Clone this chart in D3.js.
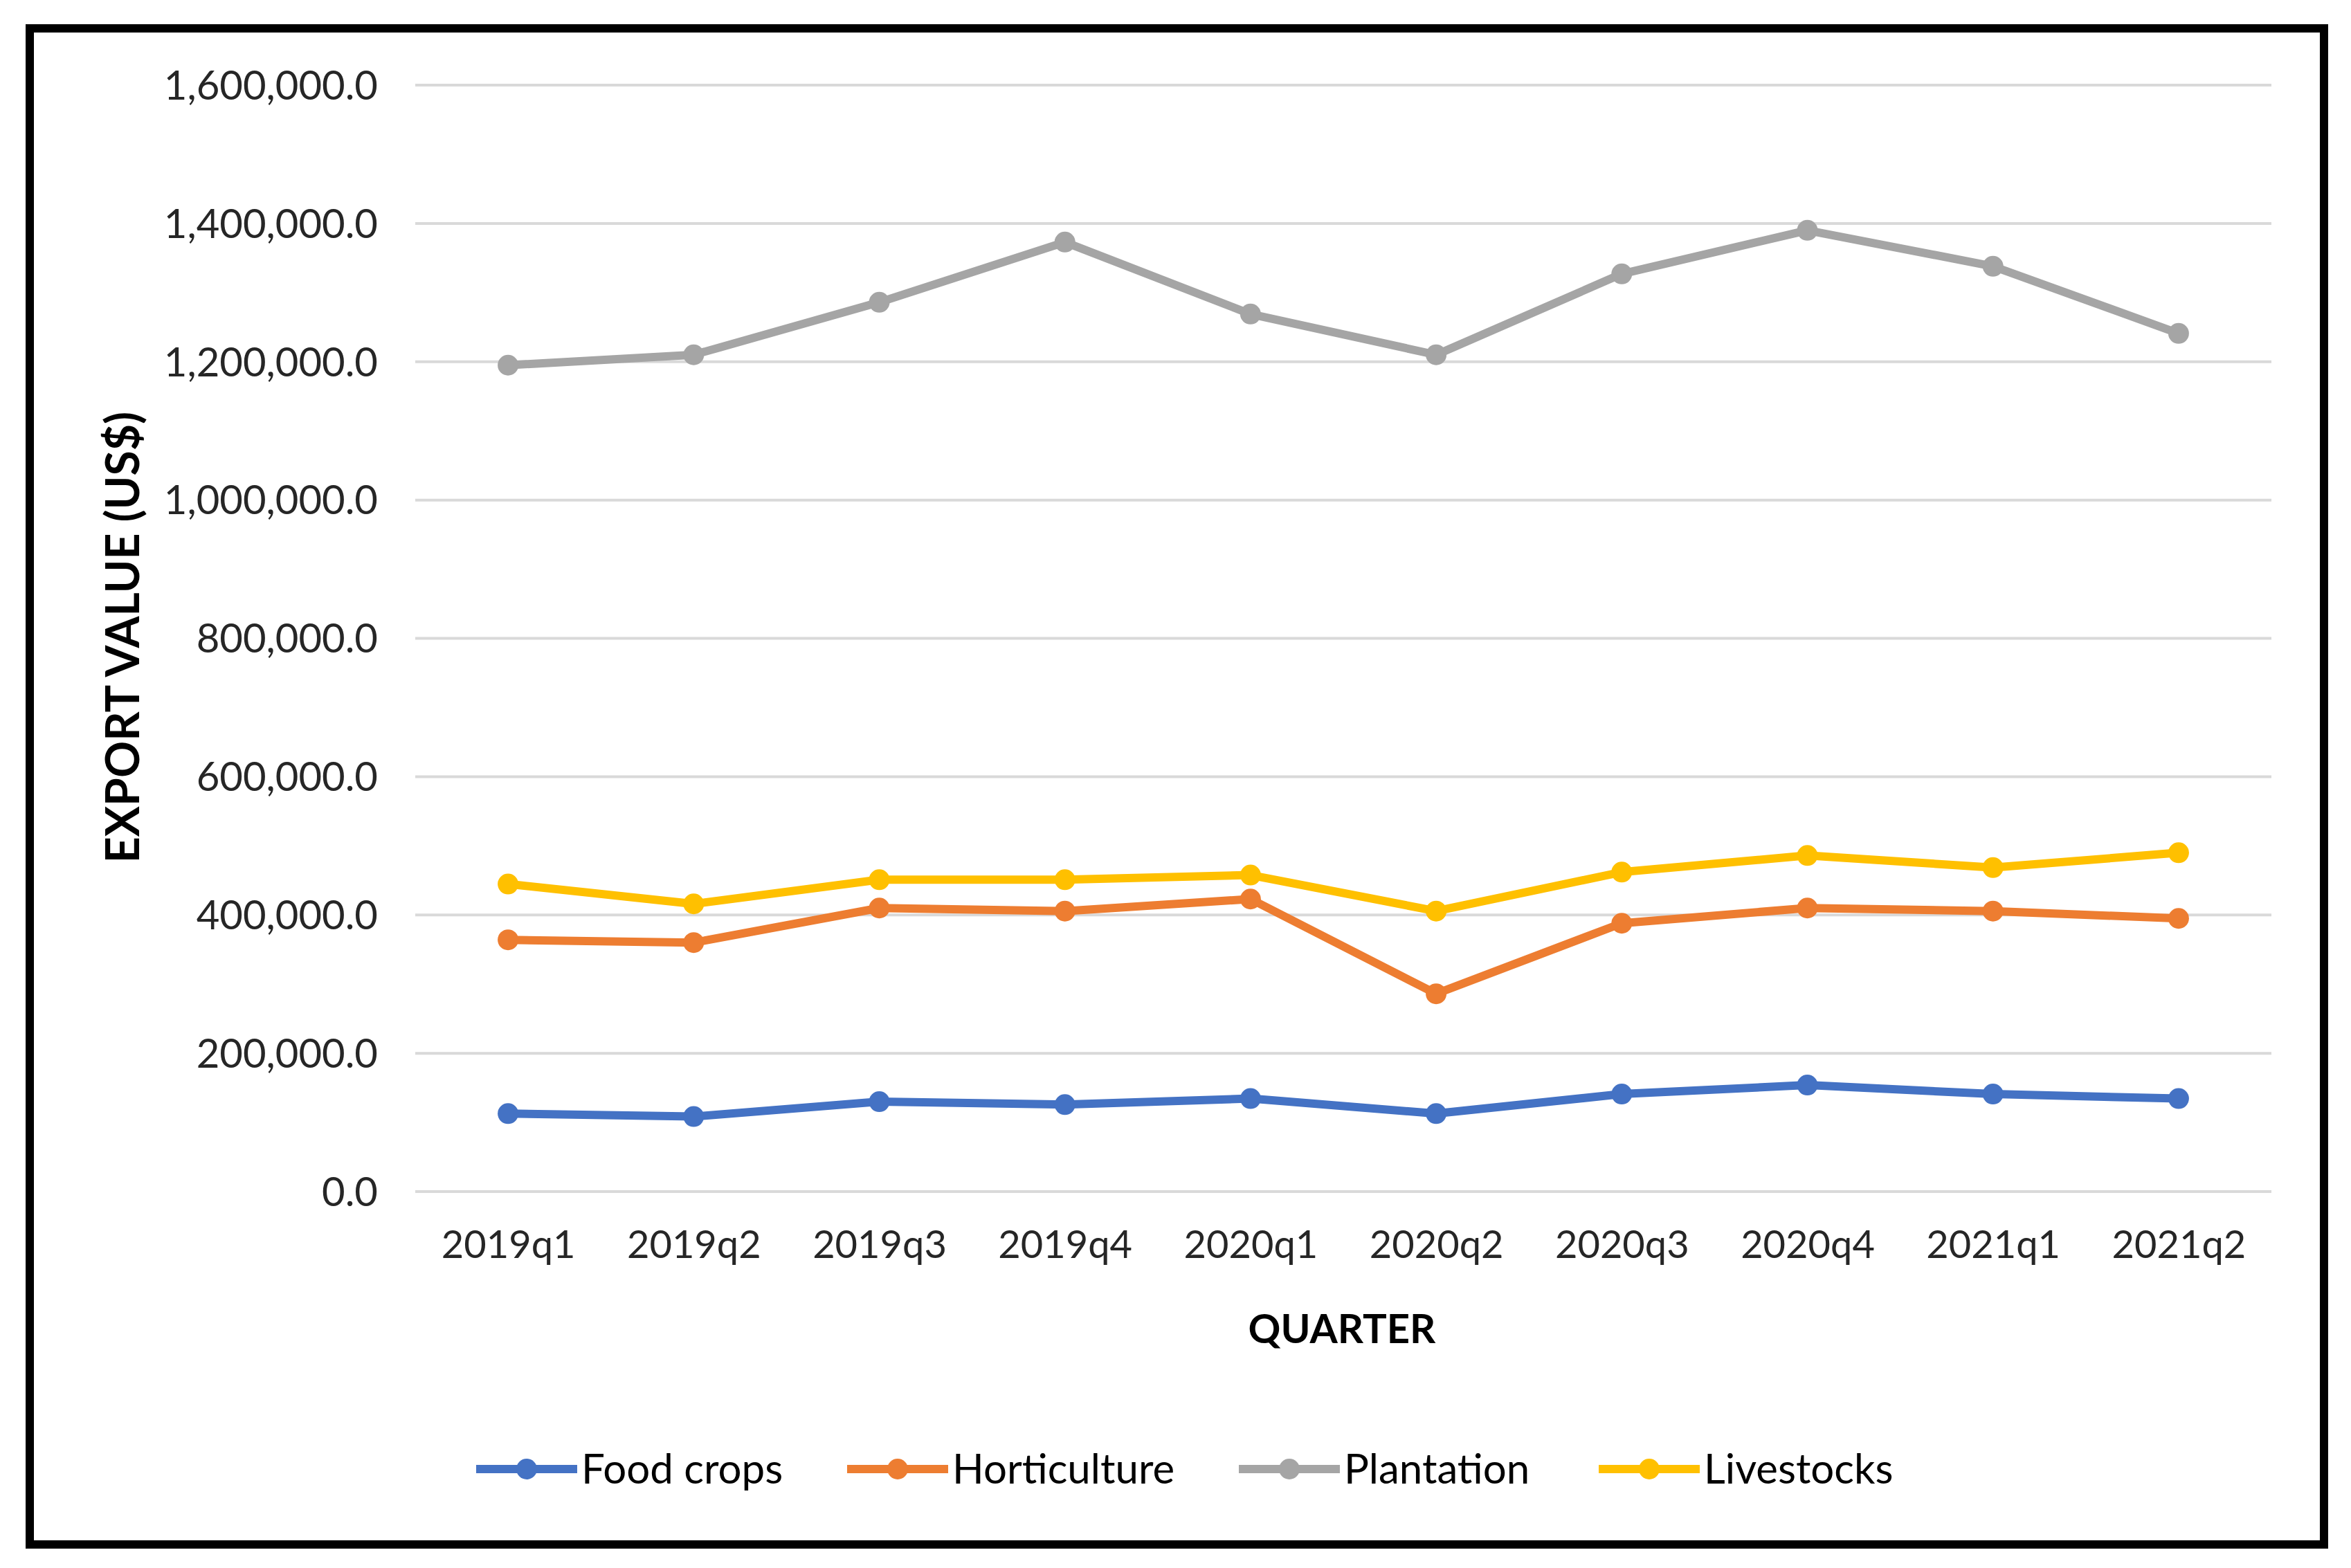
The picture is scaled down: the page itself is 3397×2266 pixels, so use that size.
<!DOCTYPE html>
<html>
<head>
<meta charset="utf-8">
<script src="https://cdn.jsdelivr.net/npm/d3@7"></script>
<style>
  html, body { margin: 0; padding: 0; background: #fff; }
</style>
</head>
<body>
<script>
const quarters = ["2019q1", "2019q2", "2019q3", "2019q4", "2020q1", "2020q2", "2020q3", "2020q4", "2021q1", "2021q2"];
const foodCrops = [112800, 108500, 130000, 125800, 134500, 112800, 141000, 154000, 141000, 134500];
const horticulture = [364000, 360000, 410000, 405600, 423000, 286000, 388000, 410000, 405600, 395000];
const plantation = [1195000, 1210000, 1286000, 1373000, 1269000, 1210000, 1327000, 1390000, 1338000, 1241000];
const livestocks = [444700, 416000, 451000, 451000, 457700, 405600, 462000, 486000, 468500, 490000];
const yTicks = [0, 200000, 400000, 600000, 800000, 1000000, 1200000, 1400000, 1600000];

const seriesNames = ["Food crops", "Horticulture", "Plantation", "Livestocks"];
const seriesValues = [foodCrops, horticulture, plantation, livestocks];
const seriesColors = ["#4472C4", "#ED7D31", "#A5A5A5", "#FFC000"];

const width = 3397;
const height = 2266;
const font = "Lato, 'Open Sans', sans-serif";

const svg = d3.select("body").append("svg")
    .attr("width", width)
    .attr("height", height);

// outer frame
svg.append("rect")
    .attr("x", 43).attr("y", 41)
    .attr("width", 3358 - 43).attr("height", 2232 - 41)
    .attr("fill", "#fff")
    .attr("stroke", "#000")
    .attr("stroke-width", 12);

const x = d3.scalePoint().domain(quarters).range([600, 3282]).padding(0.5);
const y = d3.scaleLinear().domain([0, 1600000]).range([1722, 123]);

// gridlines
svg.append("g")
    .selectAll("line")
    .data(yTicks)
    .enter()
    .append("line")
    .attr("x1", 600).attr("x2", 3282)
    .attr("y1", d => y(d)).attr("y2", d => y(d))
    .attr("stroke", "#D9D9D9")
    .attr("stroke-width", 4);

// y axis labels
const yAxis = svg.append("g")
    .attr("transform", "translate(560,0)")
    .call(d3.axisLeft(y).tickValues(yTicks).tickSize(0).tickPadding(0).tickFormat(d3.format(",.1f")));
yAxis.select(".domain").remove();
yAxis.selectAll("text")
    .attr("font-family", font)
    .attr("font-size", 58)
    .attr("fill", "#262626")
    .attr("x", -14)
    .attr("dy", "0.35em");

// x axis labels
const xAxis = svg.append("g")
    .attr("transform", "translate(0,1778)")
    .call(d3.axisBottom(x).tickSize(0).tickPadding(0));
xAxis.select(".domain").remove();
xAxis.selectAll("text")
    .attr("font-family", font)
    .attr("font-size", 56)
    .attr("fill", "#262626")
    .attr("dy", "0.71em");

// axis titles
svg.append("text")
    .attr("x", 1939).attr("y", 1926)
    .attr("text-anchor", "middle")
    .attr("dominant-baseline", "middle")
    .attr("font-family", font)
    .attr("font-weight", "bold")
    .attr("font-size", 58)
    .attr("fill", "#000")
    .text("QUARTER");

svg.append("text")
    .attr("transform", "translate(184,921) rotate(-90)")
    .attr("text-anchor", "middle")
    .attr("dominant-baseline", "middle")
    .attr("font-family", font)
    .attr("font-weight", "bold")
    .attr("font-size", 66)
    .attr("fill", "#000")
    .text("EXPORT VALUE (US$)");

// lines
const line = d3.line()
    .x((d, i) => x(quarters[i]))
    .y(d => y(d));

const series = svg.append("g")
    .selectAll("g")
    .data(seriesValues)
    .enter()
    .append("g");

series.append("path")
    .attr("fill", "none")
    .attr("stroke", (d, i) => seriesColors[i])
    .attr("stroke-width", 12)
    .attr("stroke-linejoin", "round")
    .attr("d", d => line(d));

series.each(function(vals, si) {
    d3.select(this).selectAll("circle")
        .data(vals)
        .enter()
        .append("circle")
        .attr("cx", (d, i) => x(quarters[i]))
        .attr("cy", d => y(d))
        .attr("r", 15)
        .attr("fill", seriesColors[si]);
});

// legend
const legendX = [688, 1224, 1790, 2310];
const legend = svg.append("g")
    .selectAll("g")
    .data(seriesNames)
    .enter()
    .append("g")
    .attr("transform", (d, i) => `translate(${legendX[i]},2123)`);

legend.append("line")
    .attr("x1", 0).attr("x2", 146)
    .attr("y1", 0).attr("y2", 0)
    .attr("stroke", (d, i) => seriesColors[i])
    .attr("stroke-width", 12);

legend.append("circle")
    .attr("cx", 73).attr("cy", 0).attr("r", 15)
    .attr("fill", (d, i) => seriesColors[i]);

legend.append("text")
    .attr("x", 152).attr("y", 0)
    .attr("dy", "0.35em")
    .attr("font-family", font)
    .attr("font-size", 60)
    .attr("fill", "#000")
    .text(d => d);
</script>
</body>
</html>
